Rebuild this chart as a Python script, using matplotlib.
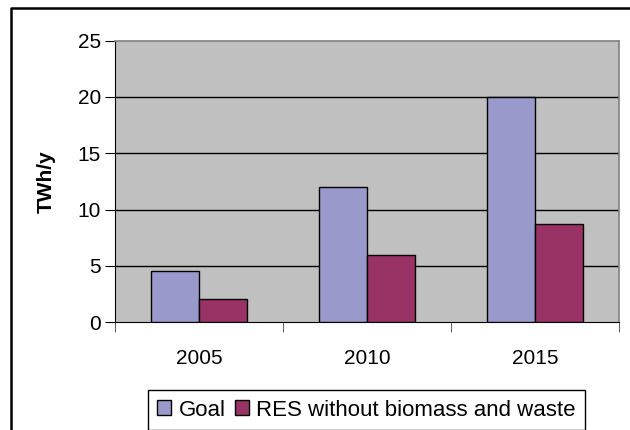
import numpy as np
import matplotlib
matplotlib.use("Agg")
import matplotlib.pyplot as plt
from matplotlib.lines import Line2D

years = ["2005", "2010", "2015"]
goal = [4.55, 12.0, 20.0]
res = [2.1, 6.0, 8.7]
series_names = ["Goal", "RES without biomass and waste"]

plt.rcParams['font.family'] = ['Liberation Sans', 'DejaVu Sans']
fs = 15

W, H = 630, 430
fig = plt.figure(figsize=(6.3, 4.3), dpi=100)

# outer chart frame (only top and left edges visible in the crop)
fig.add_artist(Line2D([11 / W, 11 / W, 1.0], [0.0, 1 - 8 / H, 1 - 8 / H],
                      transform=fig.transFigure, color='black', lw=1.8))

ax = fig.add_axes([115 / W, (H - 322.2) / H, 504 / W, 281.5 / H])
ax.set_facecolor('#C0C0C0')

x = np.arange(len(years))
w = 1 / 3.5
ax.bar(x - w / 2, goal, w, color='#9999CC', edgecolor='black', lw=1, label=series_names[0], zorder=3)
ax.bar(x + w / 2, res, w, color='#993366', edgecolor='black', lw=1, label=series_names[1], zorder=3)

ax.set_xlim(-0.5, 2.5)
ax.set_ylim(0, 25)
ax.set_yticks([0, 5, 10, 15, 20, 25])
for v in [5, 10, 15, 20]:
    ax.axhline(v, color='black', lw=1, zorder=1)

ax.set_xticks(x)
ax.set_xticklabels(years)
ax.set_xticks([-0.5, 0.5, 1.5, 2.5], minor=True)
ax.tick_params(axis='x', which='major', length=0, pad=19, labelsize=fs)
ax.tick_params(axis='x', which='minor', length=7, color='#404040')
ax.tick_params(axis='y', length=7, pad=3, labelsize=fs)

for s in ['top', 'right']:
    ax.spines[s].set_color('#808080')
    ax.spines[s].set_linewidth(1.2)
ax.spines['left'].set_color('black')
ax.spines['bottom'].set_color('black')

ax.set_ylabel('TWh/y', fontweight='bold', fontsize=fs, labelpad=16)

leg = fig.legend(loc='center', bbox_to_anchor=(366.5 / W, 1 - 410 / H), ncol=2,
                 fancybox=False, edgecolor='black', framealpha=1, fontsize=16,
                 handlelength=0.62, handleheight=0.62, handletextpad=0.33,
                 columnspacing=0.42, borderpad=0.43, borderaxespad=0)
leg.get_frame().set_linewidth(1)

fig.savefig('out.png', dpi=100)
